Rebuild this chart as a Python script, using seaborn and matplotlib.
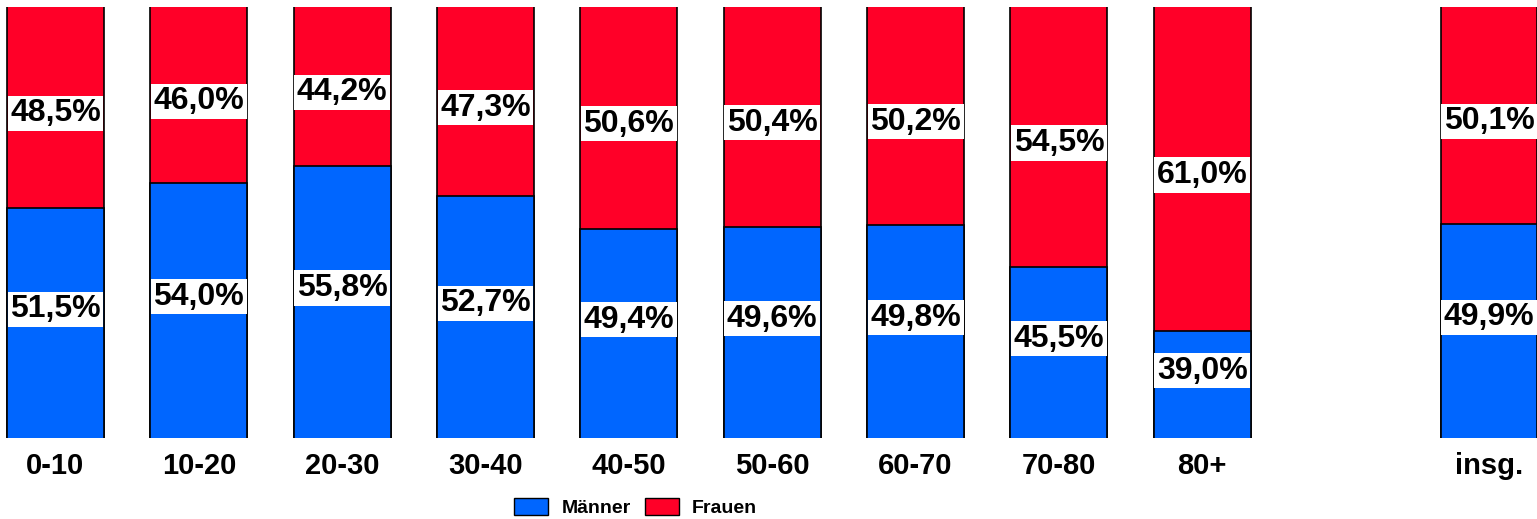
import numpy as np
import pandas as pd
import matplotlib
matplotlib.use("Agg")
import matplotlib.pyplot as plt
import seaborn as sns
from matplotlib.patches import Patch

# Anteile nach Altersgruppe (Prozent)
gruppen = ["0-10", "10-20", "20-30", "30-40", "40-50", "50-60", "60-70", "70-80", "80+", "insg."]
maenner = [51.5, 54.0, 55.8, 52.7, 49.4, 49.6, 49.8, 45.5, 39.0, 49.9]
frauen = [48.5, 46.0, 44.2, 47.3, 50.6, 50.4, 50.2, 54.5, 61.0, 50.1]

BLAU = "#0066ff"
ROT = "#ff0028"

# sichtbarer Ausschnitt der y-Achse (Originalgrafik ist abgeschnitten)
Y_MIN, Y_MAX = 28.1, 71.9

sns.set_style("white")
plt.rcParams["font.family"] = ["Liberation Sans", "DejaVu Sans"]
plt.rcParams["text.color"] = "black"

df = pd.DataFrame({"gruppe": gruppen, "maenner": maenner, "frauen": frauen})
df["gesamt"] = df["maenner"] + df["frauen"]

# leere Lücke zwischen 80+ und insg.
reihenfolge = gruppen[:-1] + [" "] + ["insg."]

fig = plt.figure(figsize=(15.37, 5.19), dpi=100)
ax = fig.add_axes([0.0, 0.156, 1.0, 0.830])

sns.barplot(data=df, x="gruppe", y="gesamt", order=reihenfolge, color=ROT,
            saturation=1, width=0.676, edgecolor="black", linewidth=1.2, ax=ax)
sns.barplot(data=df, x="gruppe", y="maenner", order=reihenfolge, color=BLAU,
            saturation=1, width=0.676, edgecolor="black", linewidth=1.2, ax=ax)

ax.set_ylim(Y_MIN, Y_MAX)
ax.set_xlim(-0.387, 10.335)
ax.set_xlabel("")
ax.set_ylabel("")
ax.set_yticks([])
sns.despine(ax=ax, left=True, bottom=True)
ax.tick_params(axis="x", length=0, pad=10, colors="black")
ax.set_xticks(range(len(reihenfolge)))
ax.set_xticklabels([g if g.strip() else "" for g in reihenfolge],
                   fontsize=21, fontweight="bold")

box = dict(facecolor="white", edgecolor="none", boxstyle="square,pad=0.08")
for g, m, f in zip(gruppen, maenner, frauen):
    x = reihenfolge.index(g)
    y_m = (Y_MIN + m) / 2 + 1.4
    y_f = (m + Y_MAX) / 2 - 0.6
    ax.text(x, y_m, f"{m:.1f}%".replace(".", ","), ha="center", va="center",
            fontsize=23, fontweight="bold", color="black", bbox=box)
    ax.text(x, y_f, f"{f:.1f}%".replace(".", ","), ha="center", va="center",
            fontsize=23, fontweight="bold", color="black", bbox=box)

handles = [Patch(facecolor=BLAU, edgecolor="black", label="Männer"),
           Patch(facecolor=ROT, edgecolor="black", label="Frauen")]
fig.legend(handles=handles, loc="center", bbox_to_anchor=(0.4135, 0.022), ncol=2,
           frameon=False, prop={"weight": "bold", "size": 14},
           handlelength=1.75, handleheight=1.0, columnspacing=0.72, handletextpad=0.67)

fig.savefig("out.png", dpi=100)
